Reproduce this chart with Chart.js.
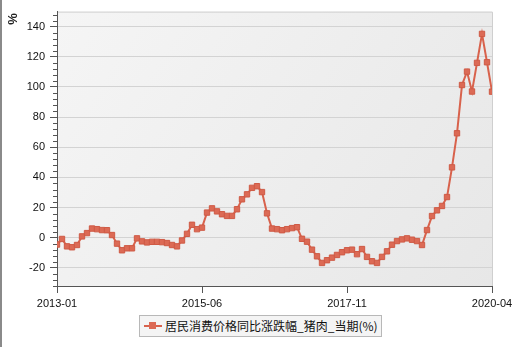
<!DOCTYPE html>
<html>
<head>
<meta charset="utf-8">
<script src="https://cdn.jsdelivr.net/npm/chart.js@4.4.1/dist/chart.umd.min.js"></script>
<style>
  html, body { margin: 0; padding: 0; background: #fff; }
  #wrap { position: relative; width: 520px; height: 347px; overflow: hidden; }
  #edge { position: absolute; left: 0; top: 0; width: 2px; height: 347px; background: #8a8a8a; }
  #legend {
    position: absolute; left: 139px; top: 315px; width: 241px; height: 20px;
    border: 1px solid #b8b8b8; background: #f4f4f4;
    font: 12px "Noto Sans CJK SC", sans-serif; color: #111; line-height: 20px; white-space: nowrap;
  }
  #legend .sym { position: absolute; left: 4px; top: 9px; width: 18px; height: 2px; background: #d8624c; }
  #legend .sym i { position: absolute; left: 5px; top: -3px; width: 7px; height: 7px; background: #dc6a55; }
  #legend .txt { position: absolute; left: 25px; top: 0; }
</style>
</head>
<body>
<div id="wrap">
  <canvas id="c" width="520" height="347"></canvas>
  <div id="edge"></div>
  <div id="legend"><span class="sym"><i></i></span><span class="txt">居民消费价格同比涨跌幅_猪肉_当期(%)</span></div>
</div>
<script>
'use strict';

/* ── data ─────────────────────────────────────────────────────────────── */
const seriesName = '居民消费价格同比涨跌幅_猪肉_当期(%)';
const tickLabels = ['2013-01', '2015-06', '2017-11', '2020-04'];   // every 29 months
const porkYoY = [
  -4.5, -0.8, -5.7, -6.3, -4.8, 0.9, 3.1, 6.1, 5.7, 5.1, 5.0, 1.8,          // 2013
  -3.9, -8.3, -7.0, -7.0, -0.4, -2.4, -3.1, -2.7, -2.7, -2.9, -3.5, -4.8,   // 2014
  -5.7, -1.8, 2.6, 8.6, 5.7, 6.7, 16.7, 19.5, 17.5, 15.6, 14.5, 14.5,       // 2015
  18.9, 25.5, 28.8, 33.1, 34.2, 30.3, 16.2, 6.1, 5.7, 5.0, 5.7, 6.4,        // 2016
  7.0, -0.7, -2.6, -7.9, -12.3, -16.7, -14.9, -13.2, -11.4, -9.6, -8.3, -7.9, // 2017
  -10.9, -7.5, -12.7, -15.6, -16.7, -12.7, -9.0, -4.6, -2.2, -1.1, -0.4, -1.3, // 2018
  -2.2, -4.8, 5.1, 14.4, 18.2, 21.1, 27.0, 46.7, 69.3, 101.3, 110.2, 97.0,  // 2019
  116.0, 135.2, 116.4, 96.9                                                 // 2020
];

const LINE = '#d8624c';

/* ── plot background, frame, minor ticks, axis title ─────────────────── */
const decor = {
  id: 'decor',
  beforeDraw(chart) {
    const { ctx, chartArea: a } = chart;
    const g = ctx.createLinearGradient(a.left, a.top, a.right, a.bottom);
    g.addColorStop(0, '#f5f5f5');
    g.addColorStop(1, '#e7e7e7');
    ctx.save();
    ctx.fillStyle = g;
    ctx.fillRect(a.left, a.top, a.right - a.left, a.bottom - a.top);
    ctx.strokeStyle = '#cfcfcf';
    ctx.lineWidth = 1;
    ctx.beginPath();
    ctx.moveTo(a.left, a.top + 0.5);
    ctx.lineTo(a.right + 0.5, a.top + 0.5);
    ctx.lineTo(a.right + 0.5, a.bottom);
    ctx.stroke();
    ctx.restore();
  },
  afterDraw(chart) {
    const { ctx, chartArea: a, scales: { y } } = chart;
    ctx.save();
    ctx.strokeStyle = '#555';
    ctx.lineWidth = 1;
    ctx.beginPath();
    for (let v = -32; v <= 150; v += 4) {
      if (v % 20 === 0) continue;
      const py = Math.round(y.getPixelForValue(v)) + 0.5;
      ctx.moveTo(a.left - 4, py);
      ctx.lineTo(a.left, py);
    }
    ctx.stroke();
    ctx.translate(13, 19);
    ctx.rotate(-Math.PI / 2);
    ctx.fillStyle = '#222';
    ctx.font = 'bold 13px "Liberation Sans", Arial, sans-serif';
    ctx.textAlign = 'center';
    ctx.textBaseline = 'middle';
    ctx.fillText('%', 0, 0);
    ctx.restore();
  }
};

new Chart(document.getElementById('c'), {
  type: 'line',
  data: {
    datasets: [{
      label: seriesName,
      data: porkYoY.map((v, i) => ({ x: i, y: v })),
      borderColor: LINE,
      borderWidth: 2,
      pointStyle: 'rect',
      pointRadius: 3.8,
      pointBackgroundColor: '#dc6a55',
      pointBorderColor: '#cf5a45',
      pointBorderWidth: 1,
      tension: 0
    }]
  },
  options: {
    responsive: false,
    animation: false,
    layout: { padding: { top: 9, right: 28, left: 0, bottom: 0 } },
    plugins: { legend: { display: false }, tooltip: { enabled: false } },
    scales: {
      x: {
        type: 'linear',
        min: 0,
        max: porkYoY.length - 1,
        afterFit: s => { s.height = 61; },
        ticks: {
          stepSize: 29,
          autoSkip: false,
          maxRotation: 0,
          padding: 4,
          color: '#111',
          font: { family: '"Liberation Sans", Arial, sans-serif', size: 11 },
          callback: v => tickLabels[v / 29] || ''
        },
        grid: { drawOnChartArea: false, tickLength: 7, tickColor: '#555' },
        border: { color: '#555', width: 1 }
      },
      y: {
        min: -32,
        max: 150,
        afterFit: s => { s.width = 57; },
        afterBuildTicks: s => { s.ticks = s.ticks.filter(t => t.value % 20 === 0); },
        ticks: {
          stepSize: 20,
          padding: 5,
          color: '#111',
          font: { family: '"Liberation Sans", Arial, sans-serif', size: 11 }
        },
        grid: { color: '#d3d3d3', tickLength: 7, tickColor: '#555' },
        border: { color: '#555', width: 1 }
      }
    }
  },
  plugins: [decor]
});
</script>
</body>
</html>
